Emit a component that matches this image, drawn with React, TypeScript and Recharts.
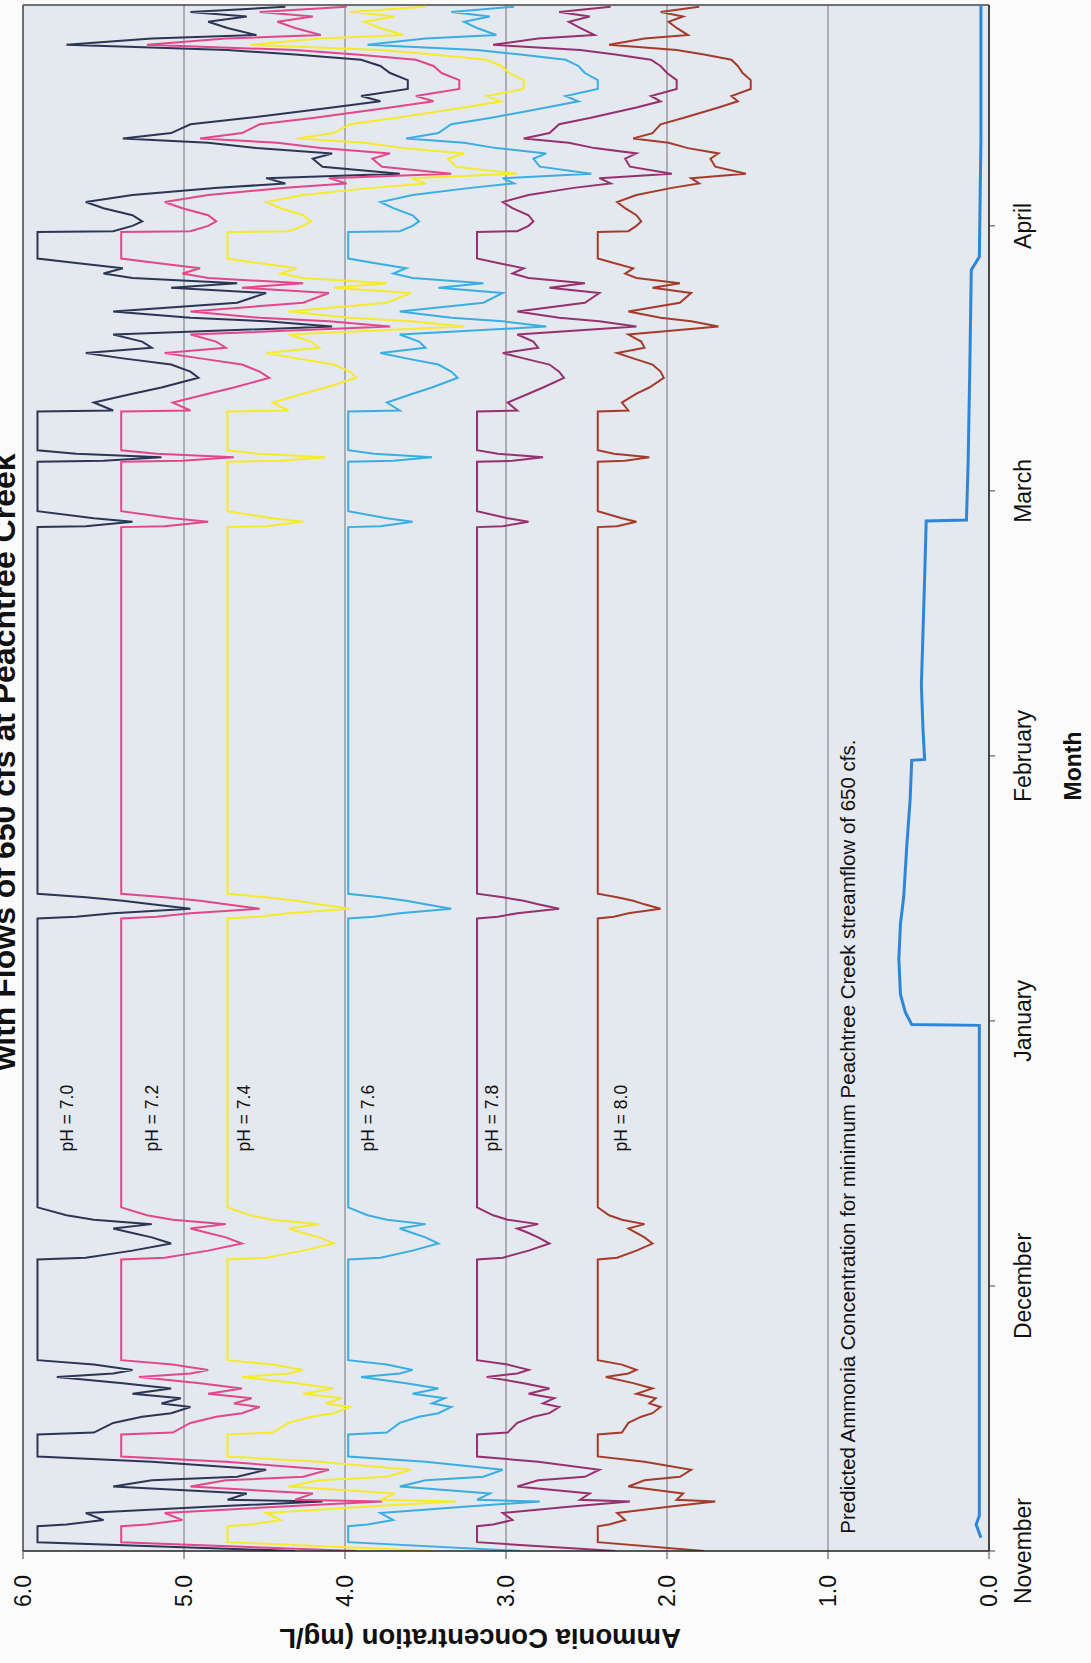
import React from 'react';
import {
  LineChart,
  Line,
  XAxis,
  YAxis,
  CartesianGrid,
  ReferenceLine,
  ReferenceDot,
} from 'recharts';

// Day 0 = November 1st; ticks every 30 days
const monthTicks = [0, 30, 60, 90, 120, 150];
const monthNames = ['November', 'December', 'January', 'February', 'March', 'April'];
const concTicks = [0, 1, 2, 3, 4, 5, 6];

const days = [
  0, 1, 2.8, 3.0, 3.5, 4.3, 5.0, 5.6, 5.8, 6.5,
  7.3, 8.0, 8.4, 9.2, 10.1, 10.7, 13.2, 13.4, 14.5, 15.2,
  15.6, 16.3, 16.7, 17.3, 17.8, 18.4, 19.0, 19.7, 20.1, 20.5,
  21.1, 21.6, 33.0, 33.2, 34.0, 34.8, 35.5, 36.0, 36.5, 37.0,
  37.5, 38.0, 38.9, 71.6, 71.8, 72.2, 72.7, 73.2, 73.6, 74.0,
  74.4, 115.9, 116.0, 116.5, 116.9, 117.7, 123.3, 123.4, 123.8, 124.2,
  124.6, 129.0, 129.1, 130.0, 131.0, 131.7, 132.8, 133.5, 134.3, 135.0,
  135.6, 136.2, 136.9, 137.7, 138.6, 139.2, 139.6, 140.3, 141.3, 142.4,
  143.0, 143.5, 144.1, 144.6, 145.2, 145.8, 146.3, 149.3, 149.4, 150.0,
  150.5, 151.2, 152.0, 152.7, 153.5, 154.3, 154.8, 155.4, 155.9, 156.7,
  157.6, 158.2, 158.8, 159.4, 159.9, 160.5, 161.5, 162.2, 163.4, 164.1,
  164.7, 165.5, 166.5, 167.3, 168.1, 168.8, 169.4, 169.9, 170.5, 171.2,
  171.6, 172.4, 173.1, 173.7, 174.2, 174.8,
];

const ph70 = [
  4.31, 5.91, 5.91, 5.73, 5.50, 5.61, 4.85, 4.14, 4.73, 4.61,
  5.44, 5.20, 4.67, 4.49, 5.20, 5.91, 5.91, 5.56, 5.44, 5.26,
  5.08, 4.96, 5.14, 5.02, 5.32, 5.08, 5.38, 5.79, 5.44, 5.32,
  5.56, 5.91, 5.91, 5.61, 5.32, 5.08, 5.20, 5.32, 5.44, 5.20,
  5.56, 5.73, 5.91, 5.91, 5.67, 5.44, 4.96, 5.20, 5.38, 5.61,
  5.91, 5.91, 5.61, 5.32, 5.56, 5.91, 5.91, 5.50, 5.14, 5.67,
  5.91, 5.91, 5.44, 5.56, 5.32, 5.14, 4.91, 4.96, 5.08, 5.38,
  5.61, 5.20, 5.26, 5.44, 4.08, 4.49, 4.96, 5.44, 4.67, 4.49,
  5.08, 4.67, 5.32, 5.50, 5.38, 5.67, 5.91, 5.91, 5.44, 5.32,
  5.26, 5.32, 5.50, 5.61, 5.32, 4.79, 4.37, 4.49, 3.66, 4.14,
  4.20, 4.08, 4.55, 4.85, 5.38, 5.08, 4.96, 4.61, 4.08, 3.78,
  3.90, 3.61, 3.61, 3.72, 3.78, 3.90, 4.31, 4.73, 5.73, 5.20,
  4.55, 4.73, 4.85, 4.61, 4.96, 4.37,
];

const ph72 = [
  3.93, 5.39, 5.39, 5.23, 5.01, 5.12, 4.42, 3.77, 4.31, 4.20,
  4.96, 4.74, 4.26, 4.10, 4.74, 5.39, 5.39, 5.07, 4.96, 4.80,
  4.64, 4.53, 4.69, 4.58, 4.85, 4.64, 4.90, 5.28, 4.96, 4.85,
  5.07, 5.39, 5.39, 5.12, 4.85, 4.64, 4.74, 4.85, 4.96, 4.74,
  5.07, 5.23, 5.39, 5.39, 5.17, 4.96, 4.53, 4.74, 4.90, 5.12,
  5.39, 5.39, 5.12, 4.85, 5.07, 5.39, 5.39, 5.01, 4.69, 5.17,
  5.39, 5.39, 4.96, 5.07, 4.85, 4.69, 4.47, 4.53, 4.64, 4.90,
  5.12, 4.74, 4.80, 4.96, 3.72, 4.10, 4.53, 4.96, 4.26, 4.10,
  4.64, 4.26, 4.85, 5.01, 4.90, 5.17, 5.39, 5.39, 4.96, 4.85,
  4.80, 4.85, 5.01, 5.12, 4.85, 4.37, 3.99, 4.10, 3.34, 3.77,
  3.83, 3.72, 4.15, 4.42, 4.90, 4.64, 4.53, 4.20, 3.72, 3.45,
  3.56, 3.29, 3.29, 3.40, 3.45, 3.56, 3.93, 4.31, 5.23, 4.74,
  4.15, 4.31, 4.42, 4.20, 4.53, 3.99,
];

const ph74 = [
  3.45, 4.73, 4.73, 4.59, 4.40, 4.49, 3.88, 3.31, 3.78, 3.69,
  4.35, 4.16, 3.74, 3.59, 4.16, 4.73, 4.73, 4.45, 4.35, 4.21,
  4.07, 3.97, 4.12, 4.02, 4.26, 4.07, 4.30, 4.64, 4.35, 4.26,
  4.45, 4.73, 4.73, 4.49, 4.26, 4.07, 4.16, 4.26, 4.35, 4.16,
  4.45, 4.59, 4.73, 4.73, 4.54, 4.35, 3.97, 4.16, 4.30, 4.49,
  4.73, 4.73, 4.49, 4.26, 4.45, 4.73, 4.73, 4.40, 4.12, 4.54,
  4.73, 4.73, 4.35, 4.45, 4.26, 4.12, 3.93, 3.97, 4.07, 4.30,
  4.49, 4.16, 4.21, 4.35, 3.26, 3.59, 3.97, 4.35, 3.74, 3.59,
  4.07, 3.74, 4.26, 4.40, 4.30, 4.54, 4.73, 4.73, 4.35, 4.26,
  4.21, 4.26, 4.40, 4.49, 4.26, 3.83, 3.50, 3.59, 2.93, 3.31,
  3.36, 3.26, 3.64, 3.88, 4.30, 4.07, 3.97, 3.69, 3.26, 3.03,
  3.12, 2.89, 2.89, 2.98, 3.03, 3.12, 3.45, 3.78, 4.59, 4.16,
  3.64, 3.78, 3.88, 3.69, 3.97, 3.50,
];

const ph76 = [
  2.91, 3.98, 3.98, 3.86, 3.70, 3.78, 3.26, 2.79, 3.18, 3.10,
  3.66, 3.50, 3.14, 3.02, 3.50, 3.98, 3.98, 3.74, 3.66, 3.54,
  3.42, 3.34, 3.46, 3.38, 3.58, 3.42, 3.62, 3.90, 3.66, 3.58,
  3.74, 3.98, 3.98, 3.78, 3.58, 3.42, 3.50, 3.58, 3.66, 3.50,
  3.74, 3.86, 3.98, 3.98, 3.82, 3.66, 3.34, 3.50, 3.62, 3.78,
  3.98, 3.98, 3.78, 3.58, 3.74, 3.98, 3.98, 3.70, 3.46, 3.82,
  3.98, 3.98, 3.66, 3.74, 3.58, 3.46, 3.30, 3.34, 3.42, 3.62,
  3.78, 3.50, 3.54, 3.66, 2.75, 3.02, 3.34, 3.66, 3.14, 3.02,
  3.42, 3.14, 3.58, 3.70, 3.62, 3.82, 3.98, 3.98, 3.66, 3.58,
  3.54, 3.58, 3.70, 3.78, 3.58, 3.22, 2.95, 3.02, 2.47, 2.79,
  2.83, 2.75, 3.06, 3.26, 3.62, 3.42, 3.34, 3.10, 2.75, 2.55,
  2.63, 2.43, 2.43, 2.51, 2.55, 2.63, 2.91, 3.18, 3.86, 3.50,
  3.06, 3.18, 3.26, 3.10, 3.34, 2.95,
];

const ph78 = [
  2.32, 3.18, 3.18, 3.08, 2.96, 3.02, 2.61, 2.23, 2.54, 2.48,
  2.93, 2.80, 2.51, 2.42, 2.80, 3.18, 3.18, 2.99, 2.93, 2.83,
  2.73, 2.67, 2.77, 2.70, 2.86, 2.73, 2.89, 3.12, 2.93, 2.86,
  2.99, 3.18, 3.18, 3.02, 2.86, 2.73, 2.80, 2.86, 2.93, 2.80,
  2.99, 3.08, 3.18, 3.18, 3.05, 2.93, 2.67, 2.80, 2.89, 3.02,
  3.18, 3.18, 3.02, 2.86, 2.99, 3.18, 3.18, 2.96, 2.77, 3.05,
  3.18, 3.18, 2.93, 2.99, 2.86, 2.77, 2.64, 2.67, 2.73, 2.89,
  3.02, 2.80, 2.83, 2.93, 2.19, 2.42, 2.67, 2.93, 2.51, 2.42,
  2.73, 2.51, 2.86, 2.96, 2.89, 3.05, 3.18, 3.18, 2.93, 2.86,
  2.83, 2.86, 2.96, 3.02, 2.86, 2.58, 2.35, 2.42, 1.97, 2.23,
  2.26, 2.19, 2.45, 2.61, 2.89, 2.73, 2.67, 2.48, 2.19, 2.04,
  2.10, 1.94, 1.94, 2.00, 2.04, 2.10, 2.32, 2.54, 3.08, 2.80,
  2.45, 2.54, 2.61, 2.48, 2.67, 2.35,
];

const ph80 = [
  1.77, 2.43, 2.43, 2.36, 2.26, 2.31, 1.99, 1.70, 1.94, 1.90,
  2.24, 2.14, 1.92, 1.85, 2.14, 2.43, 2.43, 2.28, 2.24, 2.16,
  2.09, 2.04, 2.11, 2.07, 2.19, 2.09, 2.21, 2.38, 2.24, 2.19,
  2.28, 2.43, 2.43, 2.31, 2.19, 2.09, 2.14, 2.19, 2.24, 2.14,
  2.28, 2.36, 2.43, 2.43, 2.33, 2.24, 2.04, 2.14, 2.21, 2.31,
  2.43, 2.43, 2.31, 2.19, 2.28, 2.43, 2.43, 2.26, 2.11, 2.33,
  2.43, 2.43, 2.24, 2.28, 2.19, 2.11, 2.02, 2.04, 2.09, 2.21,
  2.31, 2.14, 2.16, 2.24, 1.68, 1.85, 2.04, 2.24, 1.92, 1.85,
  2.09, 1.92, 2.19, 2.26, 2.21, 2.33, 2.43, 2.43, 2.24, 2.19,
  2.16, 2.19, 2.26, 2.31, 2.19, 1.97, 1.80, 1.85, 1.51, 1.70,
  1.73, 1.68, 1.87, 1.99, 2.21, 2.09, 2.04, 1.90, 1.68, 1.56,
  1.60, 1.48, 1.48, 1.53, 1.56, 1.60, 1.77, 1.94, 2.36, 2.14,
  1.87, 1.94, 1.99, 1.90, 2.04, 1.80,
];

// predicted concentration at the 650 cfs minimum streamflow
const flowDays = [
  1.5, 3, 4, 20, 40, 59.5, 59.6, 61, 63, 67,
  71, 74, 80, 85, 89.5, 89.6, 93, 98, 104, 110,
  116.6, 116.7, 123, 133, 145, 146.5, 160, 175,
];
const predicted650 = [
  0.05, 0.08, 0.06, 0.06, 0.06, 0.06, 0.48, 0.52, 0.55, 0.56,
  0.55, 0.53, 0.51, 0.49, 0.48, 0.40, 0.41, 0.42, 0.41, 0.40,
  0.39, 0.14, 0.13, 0.12, 0.11, 0.06, 0.05, 0.05,
];

const phLabelNames = ['pH = 7.0', 'pH = 7.2', 'pH = 7.4', 'pH = 7.6', 'pH = 7.8', 'pH = 8.0'];
const phLabelValues = [5.73, 5.2, 4.63, 3.86, 3.09, 2.29];
const phLabelDay = 49;

const phKeys = ['ph70', 'ph72', 'ph74', 'ph76', 'ph78', 'ph80'];
const phColors = ['#2c3556', '#e2478b', '#f6ea2c', '#3aaee2', '#97306f', '#a63b2c'];

const rows = days.map((day, i) => ({
  day,
  ph70: ph70[i],
  ph72: ph72[i],
  ph74: ph74[i],
  ph76: ph76[i],
  ph78: ph78[i],
  ph80: ph80[i],
}));

const flowRows = flowDays.map((day, i) => ({ day, predicted: predicted650[i] }));

const FONT = 'Arial, "Liberation Sans", sans-serif';

// the chart is laid out landscape and turned a quarter turn on the page
const W = 1663;
const H = 1091;

export default function App() {
  return (
    <div
      style={{
        position: 'absolute',
        left: 0,
        top: 0,
        width: H,
        height: W,
        overflow: 'hidden',
        background: '#fbfbfb',
      }}
    >
      <div
        style={{
          position: 'absolute',
          left: 0,
          top: 0,
          width: W,
          height: H,
          transformOrigin: '0 0',
          transform: `translate(0px, ${W}px) rotate(-90deg)`,
          fontFamily: FONT,
        }}
      >
        <div
          style={{
            position: 'absolute',
            left: 501,
            top: -12,
            width: 800,
            textAlign: 'center',
            fontSize: 32,
            lineHeight: '32px',
            fontWeight: 'bold',
            color: '#111',
            whiteSpace: 'nowrap',
          }}
        >
          with Flows of 650 cfs at Peachtree Creek
        </div>
        <LineChart
          width={W}
          height={H}
          data={rows}
          margin={{ top: 23, right: 5, bottom: 0, left: 0 }}
          style={{ fontFamily: FONT }}
        >
          <CartesianGrid
            vertical={false}
            fill="#e4e8ef"
            stroke="#555"
            strokeWidth={0.8}
          />
          <XAxis
            dataKey="day"
            type="number"
            domain={[0, 175]}
            ticks={monthTicks}
            tickFormatter={(v) => monthNames[monthTicks.indexOf(v)]}
            height={102}
            tickSize={6}
            tickMargin={20}
            tick={{ fontSize: 23, fill: '#111', fontFamily: FONT }}
            axisLine={{ stroke: '#222', strokeWidth: 1.5 }}
            tickLine={{ stroke: '#444' }}
            allowDataOverflow
            label={{
              content: () => (
                <text
                  x={897}
                  y={1081}
                  textAnchor="middle"
                  fontSize={23}
                  fontWeight="bold"
                  fill="#111"
                  fontFamily={FONT}
                >
                  Month
                </text>
              ),
            }}
          />
          <YAxis
            type="number"
            domain={[0, 6]}
            ticks={concTicks}
            tickFormatter={(v) => v.toFixed(1)}
            width={112}
            tickSize={8}
            tickMargin={16}
            tick={{ fontSize: 23, fill: '#111', fontFamily: FONT }}
            axisLine={{ stroke: '#222', strokeWidth: 1.5 }}
            tickLine={{ stroke: '#444' }}
            label={{
              content: () => (
                <text
                  x={25}
                  y={480}
                  transform="rotate(-90 25 480)"
                  textAnchor="middle"
                  dominantBaseline="central"
                  fontSize={27.5}
                  fontWeight="bold"
                  fill="#111"
                  fontFamily={FONT}
                >
                  Ammonia Concentration (mg/L
                </text>
              ),
            }}
          />
          <ReferenceLine y={6} stroke="#444" strokeWidth={1.2} />
          <ReferenceLine x={175} stroke="#444" strokeWidth={1.5} />
          {phKeys.map((key, i) => (
            <Line
              key={key}
              dataKey={key}
              type="linear"
              stroke={phColors[i]}
              strokeWidth={2}
              dot={false}
              isAnimationActive={false}
            />
          ))}
          <Line
            data={flowRows}
            dataKey="predicted"
            type="linear"
            stroke="#2f86d6"
            strokeWidth={3}
            dot={false}
            isAnimationActive={false}
          />
          {phLabelNames.map((name, i) => (
            <ReferenceDot
              key={name}
              x={phLabelDay}
              y={phLabelValues[i]}
              r={0}
              fill="none"
              stroke="none"
              label={{ value: name, position: 'center', fontSize: 17.5, fill: '#111', fontFamily: FONT }}
            />
          ))}
          <ReferenceDot
            x={1.4}
            y={0.88}
            r={0}
            fill="none"
            stroke="none"
            label={{
              value: 'Predicted Ammonia Concentration for minimum Peachtree Creek streamflow of 650 cfs.',
              position: 'right',
              fontSize: 20.5,
              fill: '#111',
              fontFamily: FONT,
            }}
          />
        </LineChart>
      </div>
    </div>
  );
}
